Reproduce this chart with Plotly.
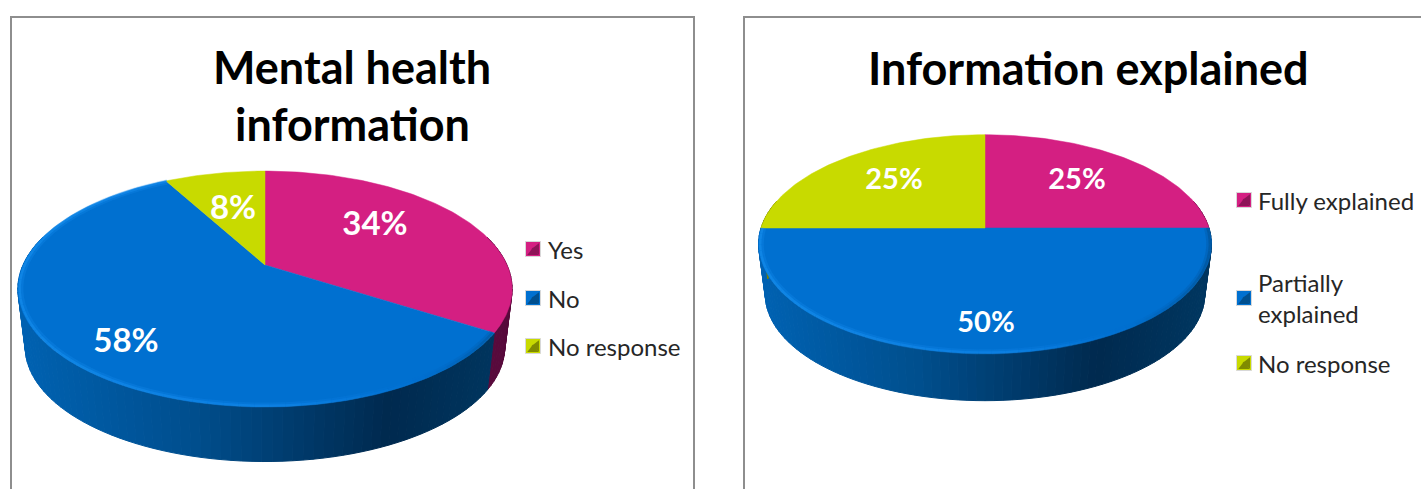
import numpy as np
import plotly.graph_objects as go

# Chart data
left_title = ["Mental health", "information"]
left_categories = ["Yes", "No", "No response"]
left_values = [34, 58, 8]

right_title = ["Information explained"]
right_categories = ["Fully explained", "Partially<br>explained", "No response"]
right_values = [25, 50, 25]

# Slice colours: top face, and dark tone for the side wall
FACE = ["#D41F82", "#0070D0", "#C8DA00"]
BEVEL = ["#8E1458", "#004F8E", "#808B00"]
FONT = "Lato"
GREY = "#8E8E8E"

# Side wall shading along the width of the pie: (position, rgb)
BLUE_WALL = [(0.0, (0, 98, 178)), (0.35, (0, 79, 142)), (0.75, (0, 42, 79)), (1.0, (0, 55, 97))]
PINK_WALL = [(0.0, (120, 20, 80)), (1.0, (88, 10, 60))]
LIME_WALL = [(0.0, (120, 130, 0)), (1.0, (90, 100, 0))]
WALLS = [PINK_WALL, BLUE_WALL, LIME_WALL]
RIM = [(0.0, (24, 145, 240)), (0.55, (18, 135, 235)), (0.82, (0, 112, 208)), (1.0, (0, 80, 145))]


def mix(stops, n, alpha=1.0):
    n = min(max(n, 0.0), 1.0)
    for (p0, c0), (p1, c1) in zip(stops, stops[1:]):
        if n <= p1:
            f = (n - p0) / (p1 - p0)
            return "rgba(%d,%d,%d,%.2f)" % (*[a + (b - a) * f for a, b in zip(c0, c1)], alpha)
    return "rgba(%d,%d,%d,%.2f)" % (*stops[-1][1], alpha)


def ring(t, g, scale=1.0, drop=0.0):
    """Project angles (clockwise from 12 o'clock) onto the tilted pie disc."""
    u, v = np.sin(t), np.cos(t)
    w = 1 + g["k"] * v
    return g["cx"] + scale * g["A"] * u / w, g["cy"] - scale * g["B"] * v / w + drop


def draw_pie(fig, values, g):
    edges = np.radians(np.concatenate([[0], np.cumsum(values)]) / sum(values) * 360)
    x_min, x_max = g["cx"] - g["R"], g["cx"] + g["R"]

    # Side wall, painted as narrow strips so the shading reads as a gradient
    for i, (a, b) in enumerate(zip(edges, edges[1:])):
        lo, hi = max(a, np.radians(75)), min(b, np.radians(285))
        if hi <= lo:
            continue
        n_strips = max(2, int(np.degrees(hi - lo) / 2))
        ts = np.linspace(lo, hi, n_strips + 1)
        for t0, t1 in zip(ts, ts[1:]):
            seg = np.array([t0, t1])
            tx, ty = ring(seg, g)
            bx, by = ring(seg, g, g["s"], g["D"])
            colour = mix(WALLS[i], (tx.mean() - x_min) / (x_max - x_min))
            fig.add_trace(go.Scatter(
                x=np.r_[tx, bx[::-1], tx[0]], y=np.r_[ty, by[::-1], ty[0]],
                mode="lines", fill="toself", fillcolor=colour,
                line=dict(color=colour, width=1), hoverinfo="skip", showlegend=False))

    # Top face
    for i, (a, b) in enumerate(zip(edges, edges[1:])):
        ts = np.linspace(a, b, max(3, int(np.degrees(b - a))))
        x, y = ring(ts, g)
        fig.add_trace(go.Scatter(
            x=np.r_[g["cx"], x, g["cx"]], y=np.r_[g["cy"], y, g["cy"]],
            mode="lines", fill="toself", fillcolor=FACE[i],
            line=dict(color=FACE[i], width=0.5), hoverinfo="skip", showlegend=False))

    # Soft light rim on the blue slice: a wide faint band under a narrower one
    a, b = edges[1], edges[2]
    ts = np.linspace(a, b, int(np.degrees(b - a) / 3) + 2)
    for scale, width, alpha in [(0.988, 5, 0.28), (0.993, 2.5, 0.55)]:
        xs, ys = [], []
        for t0, t1 in zip(ts, ts[1:]):
            x, y = ring(np.array([t0, t1]), g, scale)
            colour = mix(RIM, (x.mean() - x_min) / (x_max - x_min), alpha)
            fig.add_trace(go.Scatter(x=x, y=y, mode="lines", line=dict(color=colour, width=width),
                                     hoverinfo="skip", showlegend=False))


def draw_labels(fig, values, spots, size):
    fig.add_trace(go.Scatter(
        x=[p[0] for p in spots], y=[p[1] for p in spots], mode="text",
        text=[f"<b>{v}%</b>" for v in values],
        textfont=dict(family=FONT, size=size, color="white"),
        textposition="middle center", hoverinfo="skip", showlegend=False))


def draw_legend(fig, names, sx, tx, rows):
    for i, (name, y) in enumerate(zip(names, rows)):
        common = dict(mode="markers", hoverinfo="skip", showlegend=False)
        fig.add_trace(go.Scatter(x=[sx], y=[y], marker=dict(symbol="square", size=15, color=FACE[i],
                                 line=dict(color="#D8D8D8", width=1)), **common))
        fig.add_trace(go.Scatter(x=[sx + 3.5], y=[y], marker=dict(symbol="triangle-left", size=10, color=BEVEL[i]), **common))
        fig.add_trace(go.Scatter(x=[sx], y=[y + 3.5], marker=dict(symbol="triangle-up", size=10, color=BEVEL[i]), **common))
        fig.add_annotation(x=tx, y=y, text=name, showarrow=False, xanchor="left", yanchor="middle",
                           align="left", font=dict(family=FONT, size=24, color="#262626"))


fig = go.Figure()

draw_pie(fig, left_values, dict(cx=265, cy=265, A=242, B=113, k=0.203, R=247, s=0.97, D=59))
draw_pie(fig, right_values, dict(cx=985, cy=228, A=224, B=107, k=0.147, R=225, s=0.97, D=51))

draw_labels(fig, left_values, [(375, 227), (126, 344), (233, 211)], 33)
draw_labels(fig, right_values, [(1077, 182), (986, 325), (894, 182)], 29)

draw_legend(fig, left_categories, 533, 546, [249, 298, 346])
draw_legend(fig, right_categories, 1244, 1256, [200, 298, 363])

for line, y in zip(left_title, [67, 124]):
    fig.add_annotation(x=352, y=y, text=f"<b>{line}</b>", showarrow=False,
                       font=dict(family=FONT, size=45, color="black"))
for line, y in zip(right_title, [68]):
    fig.add_annotation(x=1088, y=y, text=f"<b>{line}</b>", showarrow=False,
                       font=dict(family=FONT, size=45, color="black"))

# Panel frames, open along the lower edge
frames = [
    "M 11 489 L 11 17 L 694 17 L 694 489",
    "M 744 489 L 744 17 L 1421 17",
]
fig.update_layout(
    width=1421, height=489, margin=dict(l=0, r=0, t=0, b=0),
    paper_bgcolor="white", plot_bgcolor="white", showlegend=False,
    xaxis=dict(range=[0, 1421], visible=False, fixedrange=True),
    yaxis=dict(range=[489, 0], visible=False, fixedrange=True),
    shapes=[dict(type="path", path=p, line=dict(color=GREY, width=2)) for p in frames],
)

fig.write_html("out.html", config=dict(displayModeBar=False))
